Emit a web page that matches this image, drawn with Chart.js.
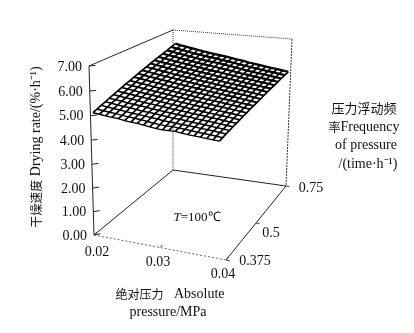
<!DOCTYPE html>
<html>
<head>
<meta charset="utf-8">
<script src="https://cdn.jsdelivr.net/npm/chart.js@4"></script>
<style>
html, body { margin: 0; padding: 0; background: #fff; }
canvas { display: block; }
</style>
</head>
<body>
<canvas id="myChart" width="414" height="333"></canvas>
<script>
// values
const rateTicks = [0, 1, 2, 3, 4, 5, 6, 7];
const pressureTicks = [0.02, 0.03, 0.04];
const freqTicks = ["0.375", "0.5", "0.75"];
const pressures = [0.02, 0.021, 0.022, 0.023, 0.024, 0.025, 0.026, 0.027, 0.028, 0.029, 0.03,
     0.031, 0.032, 0.033, 0.034, 0.035, 0.036, 0.037, 0.038, 0.039, 0.04];

// one row per frequency step, front (0.375) to back (0.75)
const rates = [
     [5.14, 5.12, 5.09, 5.07, 5.06, 5.02, 5.00, 4.99, 4.96, 4.93, 4.90, 4.89, 4.90, 4.91, 4.88, 4.86, 4.85, 4.84, 4.82, 4.81, 4.80],
     [5.20, 5.17, 5.15, 5.13, 5.10, 5.08, 5.06, 5.04, 5.01, 4.98, 4.96, 4.95, 4.96, 4.94, 4.93, 4.91, 4.89, 4.88, 4.87, 4.85, 4.83],
     [5.26, 5.23, 5.21, 5.19, 5.16, 5.13, 5.12, 5.09, 5.07, 5.05, 5.02, 5.01, 4.99, 4.98, 4.97, 4.96, 4.94, 4.92, 4.91, 4.89, 4.87],
     [5.32, 5.30, 5.26, 5.24, 5.22, 5.19, 5.16, 5.15, 5.13, 5.10, 5.08, 5.06, 5.05, 5.03, 5.01, 4.99, 4.98, 4.96, 4.94, 4.92, 4.90],
     [5.38, 5.35, 5.33, 5.29, 5.27, 5.25, 5.22, 5.19, 5.17, 5.15, 5.13, 5.11, 5.09, 5.08, 5.05, 5.03, 5.02, 5.00, 4.98, 4.96, 4.94],
     [5.44, 5.41, 5.38, 5.36, 5.33, 5.29, 5.27, 5.25, 5.23, 5.20, 5.18, 5.16, 5.14, 5.11, 5.10, 5.08, 5.05, 5.04, 5.01, 4.99, 4.97],
     [5.50, 5.47, 5.44, 5.41, 5.38, 5.36, 5.33, 5.30, 5.27, 5.25, 5.23, 5.20, 5.18, 5.16, 5.13, 5.11, 5.09, 5.07, 5.05, 5.03, 5.00],
     [5.56, 5.53, 5.50, 5.46, 5.44, 5.41, 5.38, 5.35, 5.33, 5.30, 5.27, 5.25, 5.22, 5.20, 5.18, 5.15, 5.13, 5.11, 5.09, 5.06, 5.04],
     [5.62, 5.58, 5.55, 5.52, 5.49, 5.46, 5.43, 5.40, 5.37, 5.35, 5.32, 5.29, 5.27, 5.24, 5.22, 5.19, 5.17, 5.15, 5.12, 5.10, 5.07],
     [5.68, 5.64, 5.61, 5.58, 5.54, 5.51, 5.48, 5.45, 5.42, 5.39, 5.37, 5.34, 5.31, 5.29, 5.26, 5.24, 5.21, 5.18, 5.16, 5.13, 5.11],
     [5.74, 5.71, 5.67, 5.63, 5.60, 5.57, 5.53, 5.50, 5.47, 5.44, 5.41, 5.38, 5.36, 5.33, 5.30, 5.27, 5.25, 5.22, 5.19, 5.17, 5.14],
     [5.80, 5.76, 5.72, 5.69, 5.65, 5.62, 5.58, 5.55, 5.52, 5.49, 5.46, 5.43, 5.40, 5.37, 5.34, 5.31, 5.29, 5.26, 5.23, 5.20, 5.17],
     [5.86, 5.82, 5.78, 5.74, 5.71, 5.67, 5.64, 5.60, 5.57, 5.54, 5.50, 5.47, 5.44, 5.41, 5.38, 5.35, 5.32, 5.30, 5.27, 5.24, 5.21],
     [5.92, 5.88, 5.84, 5.80, 5.76, 5.72, 5.69, 5.65, 5.62, 5.58, 5.55, 5.52, 5.48, 5.45, 5.42, 5.39, 5.36, 5.33, 5.30, 5.27, 5.24],
     [5.98, 5.94, 5.90, 5.85, 5.82, 5.77, 5.74, 5.70, 5.66, 5.63, 5.59, 5.56, 5.53, 5.49, 5.46, 5.43, 5.40, 5.37, 5.34, 5.31, 5.28],
     [6.04, 5.99, 5.95, 5.91, 5.87, 5.83, 5.79, 5.75, 5.71, 5.68, 5.64, 5.60, 5.57, 5.54, 5.50, 5.47, 5.44, 5.41, 5.37, 5.34, 5.31],
     [6.10, 6.05, 6.01, 5.96, 5.92, 5.88, 5.84, 5.80, 5.76, 5.72, 5.69, 5.65, 5.61, 5.58, 5.54, 5.51, 5.48, 5.44, 5.41, 5.38, 5.34],
     [6.16, 6.11, 6.07, 6.02, 5.98, 5.93, 5.89, 5.85, 5.81, 5.78, 5.74, 5.70, 5.66, 5.62, 5.58, 5.55, 5.51, 5.48, 5.45, 5.41, 5.38],
     [6.22, 6.17, 6.12, 6.08, 6.03, 5.98, 5.94, 5.90, 5.87, 5.84, 5.80, 5.76, 5.71, 5.67, 5.62, 5.59, 5.55, 5.52, 5.48, 5.45, 5.41],
     [6.29, 6.23, 6.18, 6.13, 6.08, 6.04, 5.99, 5.96, 5.92, 5.88, 5.84, 5.80, 5.75, 5.71, 5.67, 5.63, 5.59, 5.56, 5.52, 5.48, 5.45],
     [6.35, 6.29, 6.24, 6.19, 6.14, 6.09, 6.05, 6.01, 5.97, 5.93, 5.89, 5.84, 5.80, 5.75, 5.71, 5.67, 5.63, 5.59, 5.56, 5.52, 5.48]
];

// box corners on screen, used to project the 3d values
const boxBottom = { a: [94, 235], b: [226, 260], c: [286, 186], d: [173, 170] };
const boxTop = { a: [89, 66], b: [220, 85], c: [292, 39], d: [173, 30] };

function mix(p, q, t) {
     return [p[0] + (q[0] - p[0]) * t, p[1] + (q[1] - p[1]) * t];
}

// u: pressure 0..1, v: frequency 0..1, rate in %/h
function project(u, v, rate) {
     let w = rate / 7;
     w = w / (1 + 0.043 * (1 - w));
     let low = mix(mix(boxBottom.a, boxBottom.b, u), mix(boxBottom.d, boxBottom.c, u), v);
     let high = mix(mix(boxTop.a, boxTop.b, u), mix(boxTop.d, boxTop.c, u), v);
     let p = mix(low, high, w);
     return { x: p[0], y: p[1] };
}

function uOf(pressure) {
     return (pressure - 0.02) / 0.02;
}

// the surface sits a little inside the box in the picture
function surfacePoint(i, j) {
     let u = 0.02 + uOf(pressures[j]) * 0.96;
     return project(u, i / (rates.length - 1), rates[i][j]);
}

function lineSet(points, color, width, dash) {
     return {
          data: points,
          showLine: true,
          borderColor: color,
          borderWidth: width,
          borderDash: dash || [],
          pointRadius: 0,
          fill: false
     };
}

let dataSets = [];

// surface grid, denser and darker towards the back
for (let i = 0; i < rates.length; i++) {
     let row = [];
     for (let j = 0; j < pressures.length; j++) {
          row.push(surfacePoint(i, j));
     }
     dataSets.push(lineSet(row, "#000", 1.4 + 0.9 * i / (rates.length - 1)));
}
for (let j = 0; j < pressures.length; j++) {
     let col = [];
     for (let i = 0; i < rates.length; i++) {
          col.push(surfacePoint(i, j));
     }
     dataSets.push(lineSet(col, "#000", 1.7));
}

// box
dataSets.push(lineSet([project(0, 0, 0), project(0, 0, 7), project(0, 1, 7)], "#222", 1));
dataSets.push(lineSet([project(0, 1, 7), project(1, 1, 7)], "#333", 1, [1, 1]));
dataSets.push(lineSet([project(1, 1, 7), project(1, 1, 0)], "#333", 1, [2, 1]));
dataSets.push(lineSet([project(0, 1, 7), project(0, 1, 6.35)], "#333", 1, [1, 1]));
dataSets.push(lineSet([project(0, 1, 2.5), project(0, 1, 0)], "#333", 1, [1, 1]));
dataSets.push(lineSet([project(0, 0, 0), project(0, 1, 0), project(1, 1, 0), project(1, 0, 0)], "#222", 1));
dataSets.push(lineSet([project(0, 0, 0), project(1, 0, 0)], "#666", 1, [2, 2]));

// ticks
for (let i = 0; i < rateTicks.length; i++) {
     dataSets.push(lineSet([project(0, 0, rateTicks[i]), project(0.03, 0.03, rateTicks[i])], "#222", 1));
}
for (let i = 0; i < pressureTicks.length; i++) {
     let u = uOf(pressureTicks[i]);
     dataSets.push(lineSet([project(u, 0, 0), project(u, 0.04, 0)], "#444", 1));
}
for (let i = 0; i < freqTicks.length; i++) {
     let v = i / (freqTicks.length - 1);
     dataSets.push(lineSet([project(1, v, 0), project(1.03, v, 0)], "#444", 1));
}

const serif = '"Liberation Serif", serif';
const cjk = '"Noto Sans CJK SC", sans-serif';

function putText(ctx, text, x, y, font, align) {
     ctx.font = font;
     ctx.textAlign = align || "left";
     ctx.textBaseline = "middle";
     ctx.fillStyle = "#111";
     ctx.fillText(text, x, y);
}

// mixed line: pieces are written one after the other, centered on x
function putPieces(ctx, pieces, x, y) {
     let total = 0;
     pieces.forEach(function (p) {
          ctx.font = p[1];
          total += ctx.measureText(p[0]).width;
     });
     let cx = x - total / 2;
     pieces.forEach(function (p) {
          putText(ctx, p[0], cx, y, p[1]);
          cx += ctx.measureText(p[0]).width;
     });
}

const textPlugin = {
     id: "boxText",
     afterDraw: function (chart) {
          const ctx = chart.ctx;
          const sx = chart.scales.x;
          const sy = chart.scales.y;
          ctx.save();
          // rate ticks
          rateTicks.forEach(function (r) {
               let p = project(0, 0, r);
               putText(ctx, r.toFixed(2), sx.getPixelForValue(p.x) - 7, sy.getPixelForValue(p.y) + 1, "14px " + serif, "right");
          });
          // pressure ticks
          const pressOffset = [[3, 17], [-2, 15], [-3, 14]];
          pressureTicks.forEach(function (t, i) {
               let p = project(uOf(t), 0, 0);
               putText(ctx, t.toFixed(2), sx.getPixelForValue(p.x) + pressOffset[i][0], sy.getPixelForValue(p.y) + pressOffset[i][1], "14px " + serif, "center");
          });
          // frequency ticks
          const freqOffset = [[29, 1], [15, 10], [25, 2]];
          freqTicks.forEach(function (t, i) {
               let p = project(1, i / (freqTicks.length - 1), 0);
               putText(ctx, t, sx.getPixelForValue(p.x) + freqOffset[i][0], sy.getPixelForValue(p.y) + freqOffset[i][1], "14px " + serif, "center");
          });

          // axis titles
          ctx.save();
          ctx.translate(36, 147);
          ctx.rotate(-Math.PI / 2);
          putPieces(ctx, [["干燥速度", "12px " + cjk], [" Drying rate/(%·h⁻¹)", "14px " + serif]], 0, 0);
          ctx.restore();

          putPieces(ctx, [["绝对压力", "12px " + cjk], ["   Absolute", "14px " + serif]], 170, 294);
          putPieces(ctx, [["pressure/MPa", "14px " + serif]], 168, 312);

          putPieces(ctx, [["压力浮动频", "13px " + cjk]], 364, 108);
          putPieces(ctx, [["率", "12px " + cjk], ["Frequency", "14px " + serif]], 364, 127);
          putPieces(ctx, [["of pressure", "14px " + serif]], 366, 145);
          putPieces(ctx, [["/(time·h⁻¹)", "14px " + serif]], 368, 164);

          putPieces(ctx, [["T", "italic 13px " + serif], ["=100℃", "13px " + serif]], 197, 218);
          ctx.restore();
     }
};

const chart = new Chart(document.getElementById("myChart").getContext("2d"), {
     type: "scatter",
     data: { datasets: dataSets },
     options: {
          responsive: false,
          animation: false,
          layout: { padding: 0 },
          plugins: { legend: { display: false }, tooltip: { enabled: false } },
          scales: {
               x: { type: "linear", min: 0, max: 414, display: false },
               y: { type: "linear", min: 0, max: 333, reverse: true, display: false }
          }
     },
     plugins: [textPlugin]
});
</script>
</body>
</html>
